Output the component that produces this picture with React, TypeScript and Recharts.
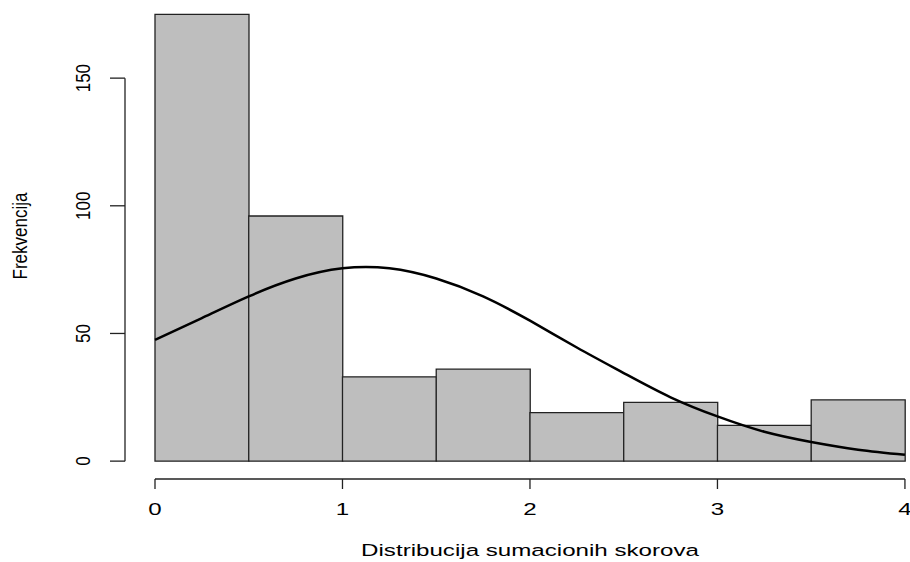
import { ComposedChart, Bar, Line, XAxis, YAxis, ReferenceLine } from "recharts"

// histogram bins (width 0.5) and their counts
const binMids = [0.25, 0.75, 1.25, 1.75, 2.25, 2.75, 3.25, 3.75]
const binCounts = [175, 96, 33, 36, 19, 23, 14, 24]

// fitted normal curve, scaled to counts
const curveX = [0, 0.25, 0.5, 0.75, 1, 1.25, 1.5, 1.75, 2, 2.25, 2.5, 2.75, 3, 3.25, 3.5, 3.75, 4]
const curveY = [47.5, 56, 64.5, 71.5, 75.5, 75.5, 71.5, 64.5, 55, 44.5, 34.5, 25, 17.5, 11.5, 7.5, 4.5, 2.5]

const xTicks = [0, 1, 2, 3, 4]
const yTicks = [0, 50, 100, 150]

const xTitle = "Distribucija sumacionih skorova"
const yTitle = "Frekvencija"

// plotting region limits (R style, 4% extension)
const XLIM: [number, number] = [-0.16, 4.027]
const YLIM: [number, number] = [-7, 180.6]

const histData = binMids.map((mid, i) => ({ mid, count: binCounts[i] }))
const curveData = curveX.map((x, i) => ({ x, y: curveY[i] }))

const FONT = "'Liberation Sans', Arial, sans-serif"
const INK = "#222"
const STRETCH = 1.42

function XTick(props: any) {
  const { x, y, payload } = props
  return (
    <g>
      <line x1={x} y1={y} x2={x} y2={y + 10} stroke={INK} strokeWidth={1.3} />
      <text
        transform={`translate(${x},${y + 36}) scale(${STRETCH},1)`}
        textAnchor="middle"
        fontFamily={FONT}
        fontSize={17}
        fill="#000"
      >
        {payload.value}
      </text>
    </g>
  )
}

function YTick(props: any) {
  const { x, y, payload } = props
  return (
    <g>
      <line x1={x - 15} y1={y} x2={x} y2={y} stroke={INK} strokeWidth={1.3} />
      <text
        transform={`translate(${x - 35},${y}) scale(1.15,1) rotate(-90)`}
        textAnchor="middle"
        fontFamily={FONT}
        fontSize={17}
        fill="#000"
      >
        {payload.value}
      </text>
    </g>
  )
}

function XTitle() {
  return (
    <text
      transform={`translate(530,556) scale(${STRETCH},1)`}
      textAnchor="middle"
      fontFamily={FONT}
      fontSize={17}
      fill="#000"
    >
      {xTitle}
    </text>
  )
}

function YTitle() {
  return (
    <text
      transform="translate(27,236) scale(1.15,1) rotate(-90)"
      textAnchor="middle"
      fontFamily={FONT}
      fontSize={17}
      fill="#000"
    >
      {yTitle}
    </text>
  )
}

export default function App() {
  return (
    <div style={{ position: "absolute", left: 0, top: 0, width: 910, height: 562, background: "#fff" }}>
      <ComposedChart
        width={910}
        height={562}
        data={histData}
        margin={{ top: 0, right: 0, bottom: 0, left: 0 }}
        barCategoryGap={0}
        barGap={0}
      >
        <XAxis
          xAxisId="bins"
          dataKey="mid"
          type="number"
          domain={XLIM}
          allowDataOverflow
          ticks={xTicks}
          height={83}
          axisLine={false}
          tickLine={false}
          tickSize={0}
          tickMargin={0}
          tick={<XTick />}
          interval={0}
          label={<XTitle />}
        />
        <XAxis xAxisId="curve" dataKey="x" type="number" domain={XLIM} allowDataOverflow hide />
        <YAxis
          type="number"
          domain={YLIM}
          allowDataOverflow
          ticks={yTicks}
          width={125}
          axisLine={false}
          tickLine={false}
          tickSize={0}
          tickMargin={0}
          tick={<YTick />}
          interval={0}
          label={<YTitle />}
        />
        <Bar
          xAxisId="bins"
          dataKey="count"
          fill="#bebebe"
          stroke={INK}
          strokeWidth={1.3}
          isAnimationActive={false}
        />
        <Line
          xAxisId="curve"
          data={curveData}
          dataKey="y"
          type="natural"
          stroke="#000"
          strokeWidth={2.5}
          dot={false}
          activeDot={false}
          isAnimationActive={false}
        />
        <ReferenceLine
          xAxisId="bins"
          segment={[{ x: 0, y: YLIM[0] }, { x: 4, y: YLIM[0] }]}
          stroke={INK}
          strokeWidth={1.3}
          ifOverflow="visible"
        />
        <ReferenceLine
          xAxisId="bins"
          segment={[{ x: XLIM[0], y: 0 }, { x: XLIM[0], y: 150 }]}
          stroke={INK}
          strokeWidth={1.3}
          ifOverflow="visible"
        />
      </ComposedChart>
    </div>
  )
}
